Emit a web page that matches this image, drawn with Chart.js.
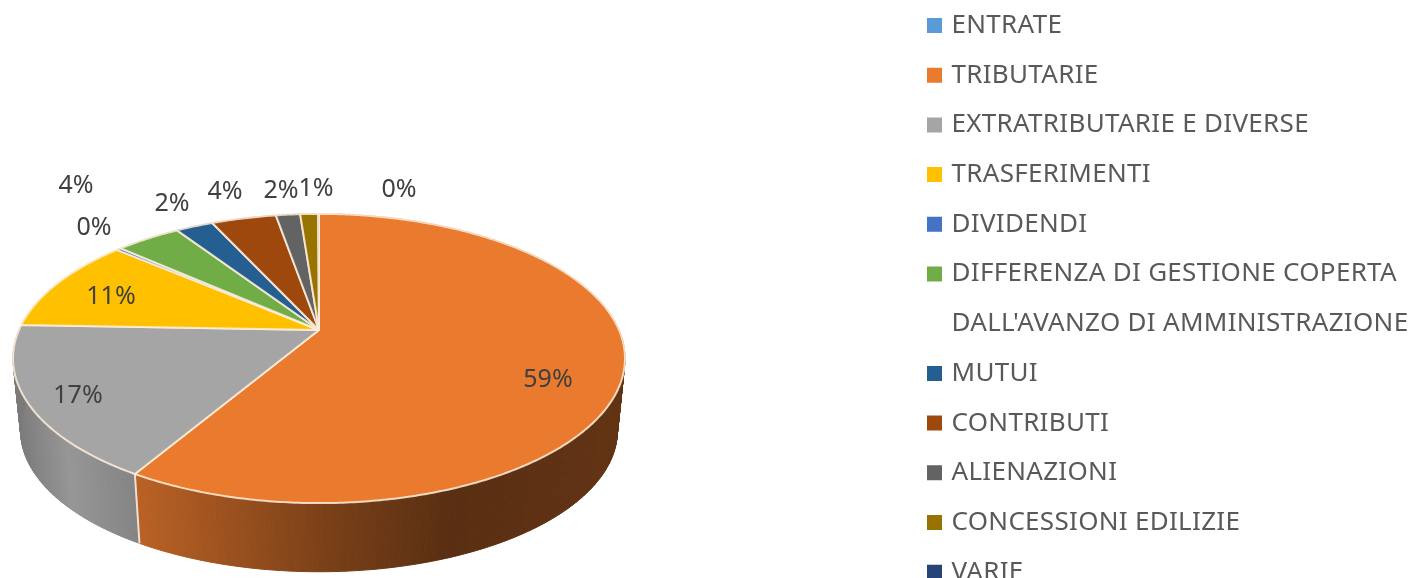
<!DOCTYPE html>
<html lang="it">

<head>
    <meta charset="UTF-8">
    <title>Entrate</title>
    <script src="https://cdn.jsdelivr.net/npm/chart.js"></script>
    <style>
        html, body { margin: 0; background: #fff; overflow: hidden; }
        #box { width: 1410px; height: 578px; }
        /* the original is a soft upscaled picture */
        canvas { filter: blur(0.5px); }
    </style>
</head>

<body>
    <div id="box"><canvas id="torta"></canvas></div>
    <script>
        const categorie = ['ENTRATE', 'TRIBUTARIE', 'EXTRATRIBUTARIE E DIVERSE', 'TRASFERIMENTI', 'DIVIDENDI',
            "DIFFERENZA DI GESTIONE COPERTA\nDALL'AVANZO DI AMMINISTRAZIONE", 'MUTUI', 'CONTRIBUTI', 'ALIENAZIONI',
            'CONCESSIONI EDILIZIE', 'VARIE'];
        // ENTRATE is only a header row, it has no value and no label
        const valori = [null, 58.6, 17.1, 10.7, 0.3, 4.15, 2.4, 4.15, 1.55, 1.15, 0.05];
        const colori = ['#5B9BD5', '#E97A2E', '#A5A5A5', '#FFC000', '#4472C4', '#70AD47', '#255E91', '#9E480E', '#636363', '#997300', '#264478'];
        // where the percent labels sit, same order as categorie
        const posEtichette = [null, [548, 380], [78, 396], [111, 297], [94, 228], [76, 186], [172, 204], [225, 192], [281, 191], [316, 189], [399, 190]];

        // perspective of the disc: apex of the slices, half width, half depth, tilt
        const disco = { cx: 319, cy: 330, a: 300, b: 139, k: 0.197 };
        // lower rim of the side wall
        const base = { cx: 319, cy: 403, a: 292.5, b: 135.5, k: 0.197 };
        // darkening of the wall from left to right: [x, amount]
        const ombra = [[13, 0.26], [68, 0.09], [135, 0.2], [330, 0.48], [454, 0.62], [625, 0.58]];

        function puntoBordo(d, ang) {
            const u = Math.cos(ang), v = Math.sin(ang);
            const w = 1 - d.k * v;
            return [d.cx + d.a * u / w, d.cy + d.b * v / w];
        }

        function campiona(d, inizio, fine) {
            const passi = Math.max(2, Math.ceil((fine - inizio) / 0.01));
            const punti = [];
            for (let i = 0; i <= passi; i++) {
                punti.push(puntoBordo(d, inizio + (fine - inizio) * i / passi));
            }
            return punti;
        }

        function traccia(ctx, punti) {
            ctx.beginPath();
            punti.forEach((p, i) => i ? ctx.lineTo(p[0], p[1]) : ctx.moveTo(p[0], p[1]));
            ctx.closePath();
        }

        function coloreParete(hex, x) {
            let o = ombra[ombra.length - 1][1];
            for (let i = 0; i < ombra.length - 1; i++) {
                if (x <= ombra[i + 1][0]) {
                    const t = Math.max(0, (x - ombra[i][0]) / (ombra[i + 1][0] - ombra[i][0]));
                    o = ombra[i][1] + (ombra[i + 1][1] - ombra[i][1]) * t;
                    break;
                }
            }
            const n = parseInt(hex.slice(1), 16);
            const r = (n >> 16) * (1 - o), g = ((n >> 8) & 255) * (1 - o), b = (n & 255) * (1 - o);
            return `rgb(${Math.round(r)},${Math.round(g)},${Math.round(b)})`;
        }

        const torta3d = {
            id: 'torta3d',
            afterLayout(chart) {
                // legend rows run past the bottom of the window like in the original
                const legenda = chart.legend;
                legenda.left = 930.5 - legenda.options.labels.padding;
                legenda.top = 12.5 - legenda.options.labels.padding;
                legenda.bottom = 2000;
            },
            beforeDraw(chart) {
                // text of the original is a bit wider than Noto Sans
                chart.ctx.letterSpacing = '0.3px';
            },
            beforeDatasetDraw(chart) {
                const ctx = chart.ctx;
                const archi = chart.getDatasetMeta(0).data;

                ctx.save();
                ctx.lineWidth = 1;
                archi.forEach((arco, i) => {
                    if (!(arco.endAngle > arco.startAngle)) return;
                    const sopra = campiona(disco, arco.startAngle, arco.endAngle);
                    const sotto = campiona(base, arco.startAngle, arco.endAngle);
                    for (let p = 0; p < sopra.length - 1; p++) {
                        traccia(ctx, [sopra[p], sopra[p + 1], sotto[p + 1], sotto[p]]);
                        ctx.fillStyle = ctx.strokeStyle = coloreParete(colori[i], sopra[p][0]);
                        ctx.fill();
                        ctx.stroke();
                    }
                });
                // light seam where two slices meet on the wall
                archi.forEach((arco) => {
                    if (!(arco.endAngle > arco.startAngle)) return;
                    const a = puntoBordo(disco, arco.startAngle), b = puntoBordo(base, arco.startAngle);
                    if (a[1] > disco.cy + 10) {
                        ctx.beginPath();
                        ctx.moveTo(a[0], a[1]);
                        ctx.lineTo(b[0], b[1]);
                        ctx.strokeStyle = 'rgba(255,240,225,0.85)';
                        ctx.lineWidth = 2;
                        ctx.stroke();
                    }
                });
                archi.forEach((arco, i) => {
                    if (!(arco.endAngle > arco.startAngle)) return;
                    const fetta = [[disco.cx, disco.cy]].concat(campiona(disco, arco.startAngle, arco.endAngle));
                    traccia(ctx, fetta);
                    ctx.fillStyle = colori[i];
                    ctx.fill();
                    ctx.strokeStyle = 'rgba(255,238,220,0.85)';
                    ctx.lineWidth = 2;
                    ctx.lineJoin = 'round';
                    ctx.stroke();
                });
                ctx.restore();
                return false;
            },
            afterDatasetsDraw(chart) {
                const ctx = chart.ctx;
                const totale = valori.reduce((s, v) => s + (v || 0), 0);
                ctx.save();
                ctx.letterSpacing = '0px';
                ctx.font = '25px "Noto Sans"';
                ctx.fillStyle = '#404040';
                ctx.textAlign = 'center';
                ctx.textBaseline = 'middle';
                valori.forEach((v, i) => {
                    if (v === null) return;
                    ctx.fillText(Math.round(v / totale * 100) + '%', posEtichette[i][0], posEtichette[i][1]);
                });
                ctx.restore();
            }
        };

        new Chart(document.getElementById('torta'), {
            type: 'pie',
            plugins: [torta3d],
            data: {
                labels: categorie,
                datasets: [{ data: valori, backgroundColor: colori }]
            },
            options: {
                responsive: true,
                maintainAspectRatio: false,
                animation: false,
                plugins: {
                    tooltip: { enabled: false },
                    legend: {
                        position: 'right',
                        align: 'start',
                        labels: {
                            color: '#595959',
                            font: { family: '"Noto Sans"', size: 26, lineHeight: 1 },
                            padding: 23.7,
                            // 8px box + 7px border gives the 15px square close to the text
                            boxWidth: 8,
                            boxHeight: 8,
                            generateLabels() {
                                const voci = [];
                                categorie.forEach((nome, i) => {
                                    nome.split('\n').forEach((riga, n) => {
                                        const colore = n ? 'rgba(0,0,0,0)' : colori[i];
                                        voci.push({ text: riga, fillStyle: colore, strokeStyle: colore, lineWidth: 7, fontColor: '#595959', index: i, hidden: false });
                                    });
                                });
                                return voci;
                            }
                        }
                    }
                }
            }
        });
    </script>
</body>

</html>
